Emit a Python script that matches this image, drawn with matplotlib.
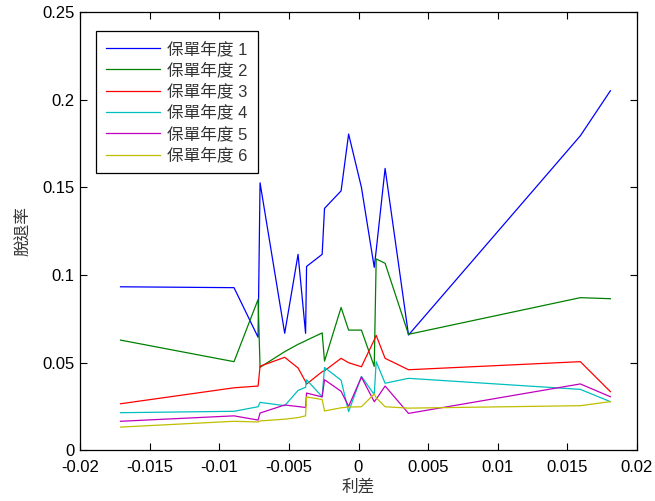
import matplotlib
matplotlib.use('Agg')
import matplotlib.pyplot as plt
import numpy as np

plt.rcParams['font.family'] = ['Liberation Sans', 'Noto Sans CJK TC']

# interest spread (x) shared by all series
spread = [-0.01709, -0.00894, -0.00721, -0.00707, -0.0053, -0.00434, -0.0038,
          -0.00373, -0.00261, -0.00244, -0.00125, -0.00071, 0.00021, 0.00113,
          0.00127, 0.00191, 0.00359, 0.01593, 0.01809]

# lapse rate per policy year
year1 = [0.0933, 0.0928, 0.0645, 0.1526, 0.0668, 0.1118, 0.0668, 0.1049, 0.1118,
         0.138, 0.1480, 0.1804, 0.150, 0.1044, 0.114, 0.1608, 0.0658, 0.1794, 0.2051]
year2 = [0.0629, 0.0506, 0.0861, 0.0474, 0.0563, 0.0605, 0.0625, 0.0628, 0.0670,
         0.0509, 0.0815, 0.0686, 0.0686, 0.0479, 0.1092, 0.1067, 0.0662, 0.0871, 0.0865]
year3 = [0.0266, 0.0357, 0.0367, 0.0480, 0.0531, 0.0470, 0.0392, 0.0378, 0.0449,
         0.0454, 0.0525, 0.0500, 0.0477, 0.0630, 0.0656, 0.0525, 0.0460, 0.0506, 0.0335]
year4 = [0.0215, 0.0223, 0.0249, 0.0274, 0.0255, 0.0342, 0.0360, 0.0403, 0.0306,
         0.0473, 0.0400, 0.0221, 0.0422, 0.0318, 0.0506, 0.0383, 0.0411, 0.0348, 0.0278]
year5 = [0.0166, 0.0197, 0.0173, 0.0213, 0.0259, 0.0250, 0.0245, 0.0327, 0.0305,
         0.0403, 0.0337, 0.0251, 0.0418, 0.0278, 0.0292, 0.0367, 0.0211, 0.0379, 0.0306]
year6 = [0.0133, 0.0166, 0.0162, 0.0168, 0.0178, 0.0187, 0.0197, 0.0305, 0.0290,
         0.0225, 0.0243, 0.0247, 0.0249, 0.0322, 0.0300, 0.0249, 0.0241, 0.0255, 0.0278]

labels = ['保單年度 1', '保單年度 2', '保單年度 3', '保單年度 4', '保單年度 5', '保單年度 6']
colors = ['#0000ff', '#008000', '#ff0000', '#00bfbf', '#bf00bf', '#bfbf00']

xticks = [-0.02, -0.015, -0.01, -0.005, 0, 0.005, 0.01, 0.015, 0.02]
xticklabels = ['-0.02', '-0.015', '-0.01', '-0.005', '0', '0.005', '0.01', '0.015', '0.02']
yticks = [0, 0.05, 0.1, 0.15, 0.2, 0.25]
yticklabels = ['0', '0.05', '0.1', '0.15', '0.2', '0.25']

fig = plt.figure(figsize=(6.55, 5.01), dpi=100)
ax = fig.add_axes([80 / 655, 50.6 / 501, 557 / 655, 438.4 / 501])

for ys, lab, c in zip([year1, year2, year3, year4, year5, year6], labels, colors):
    ax.plot(spread, ys, color=c, lw=0.9, label=lab)

ax.set_xlim(-0.02, 0.02)
ax.set_ylim(0, 0.25)
ax.set_xticks(xticks)
ax.set_xticklabels(xticklabels)
ax.set_yticks(yticks)
ax.set_yticklabels(yticklabels)
ax.tick_params(direction='in', top=True, right=True, length=5, width=0.8,
               labelsize=12)
ax.tick_params(axis='x', pad=7)
ax.tick_params(axis='y', pad=4)
for sp in ax.spines.values():
    sp.set_linewidth(0.9)

ax.set_xlabel('利差', fontsize=12, labelpad=3, color='#333333')
ax.set_ylabel('脫退率', fontsize=12, labelpad=8, color='#333333')

leg = ax.legend(loc='upper left', bbox_to_anchor=(0.0287, 0.9566), borderaxespad=0,
                fontsize=12, handlelength=3.25, handletextpad=0.42, labelspacing=0.33,
                fancybox=False, framealpha=1, edgecolor='black', borderpad=0.6)
leg.get_frame().set_linewidth(0.9)
for t in leg.get_texts():
    t.set_color('#333333')

plt.savefig('out.png', dpi=100)
